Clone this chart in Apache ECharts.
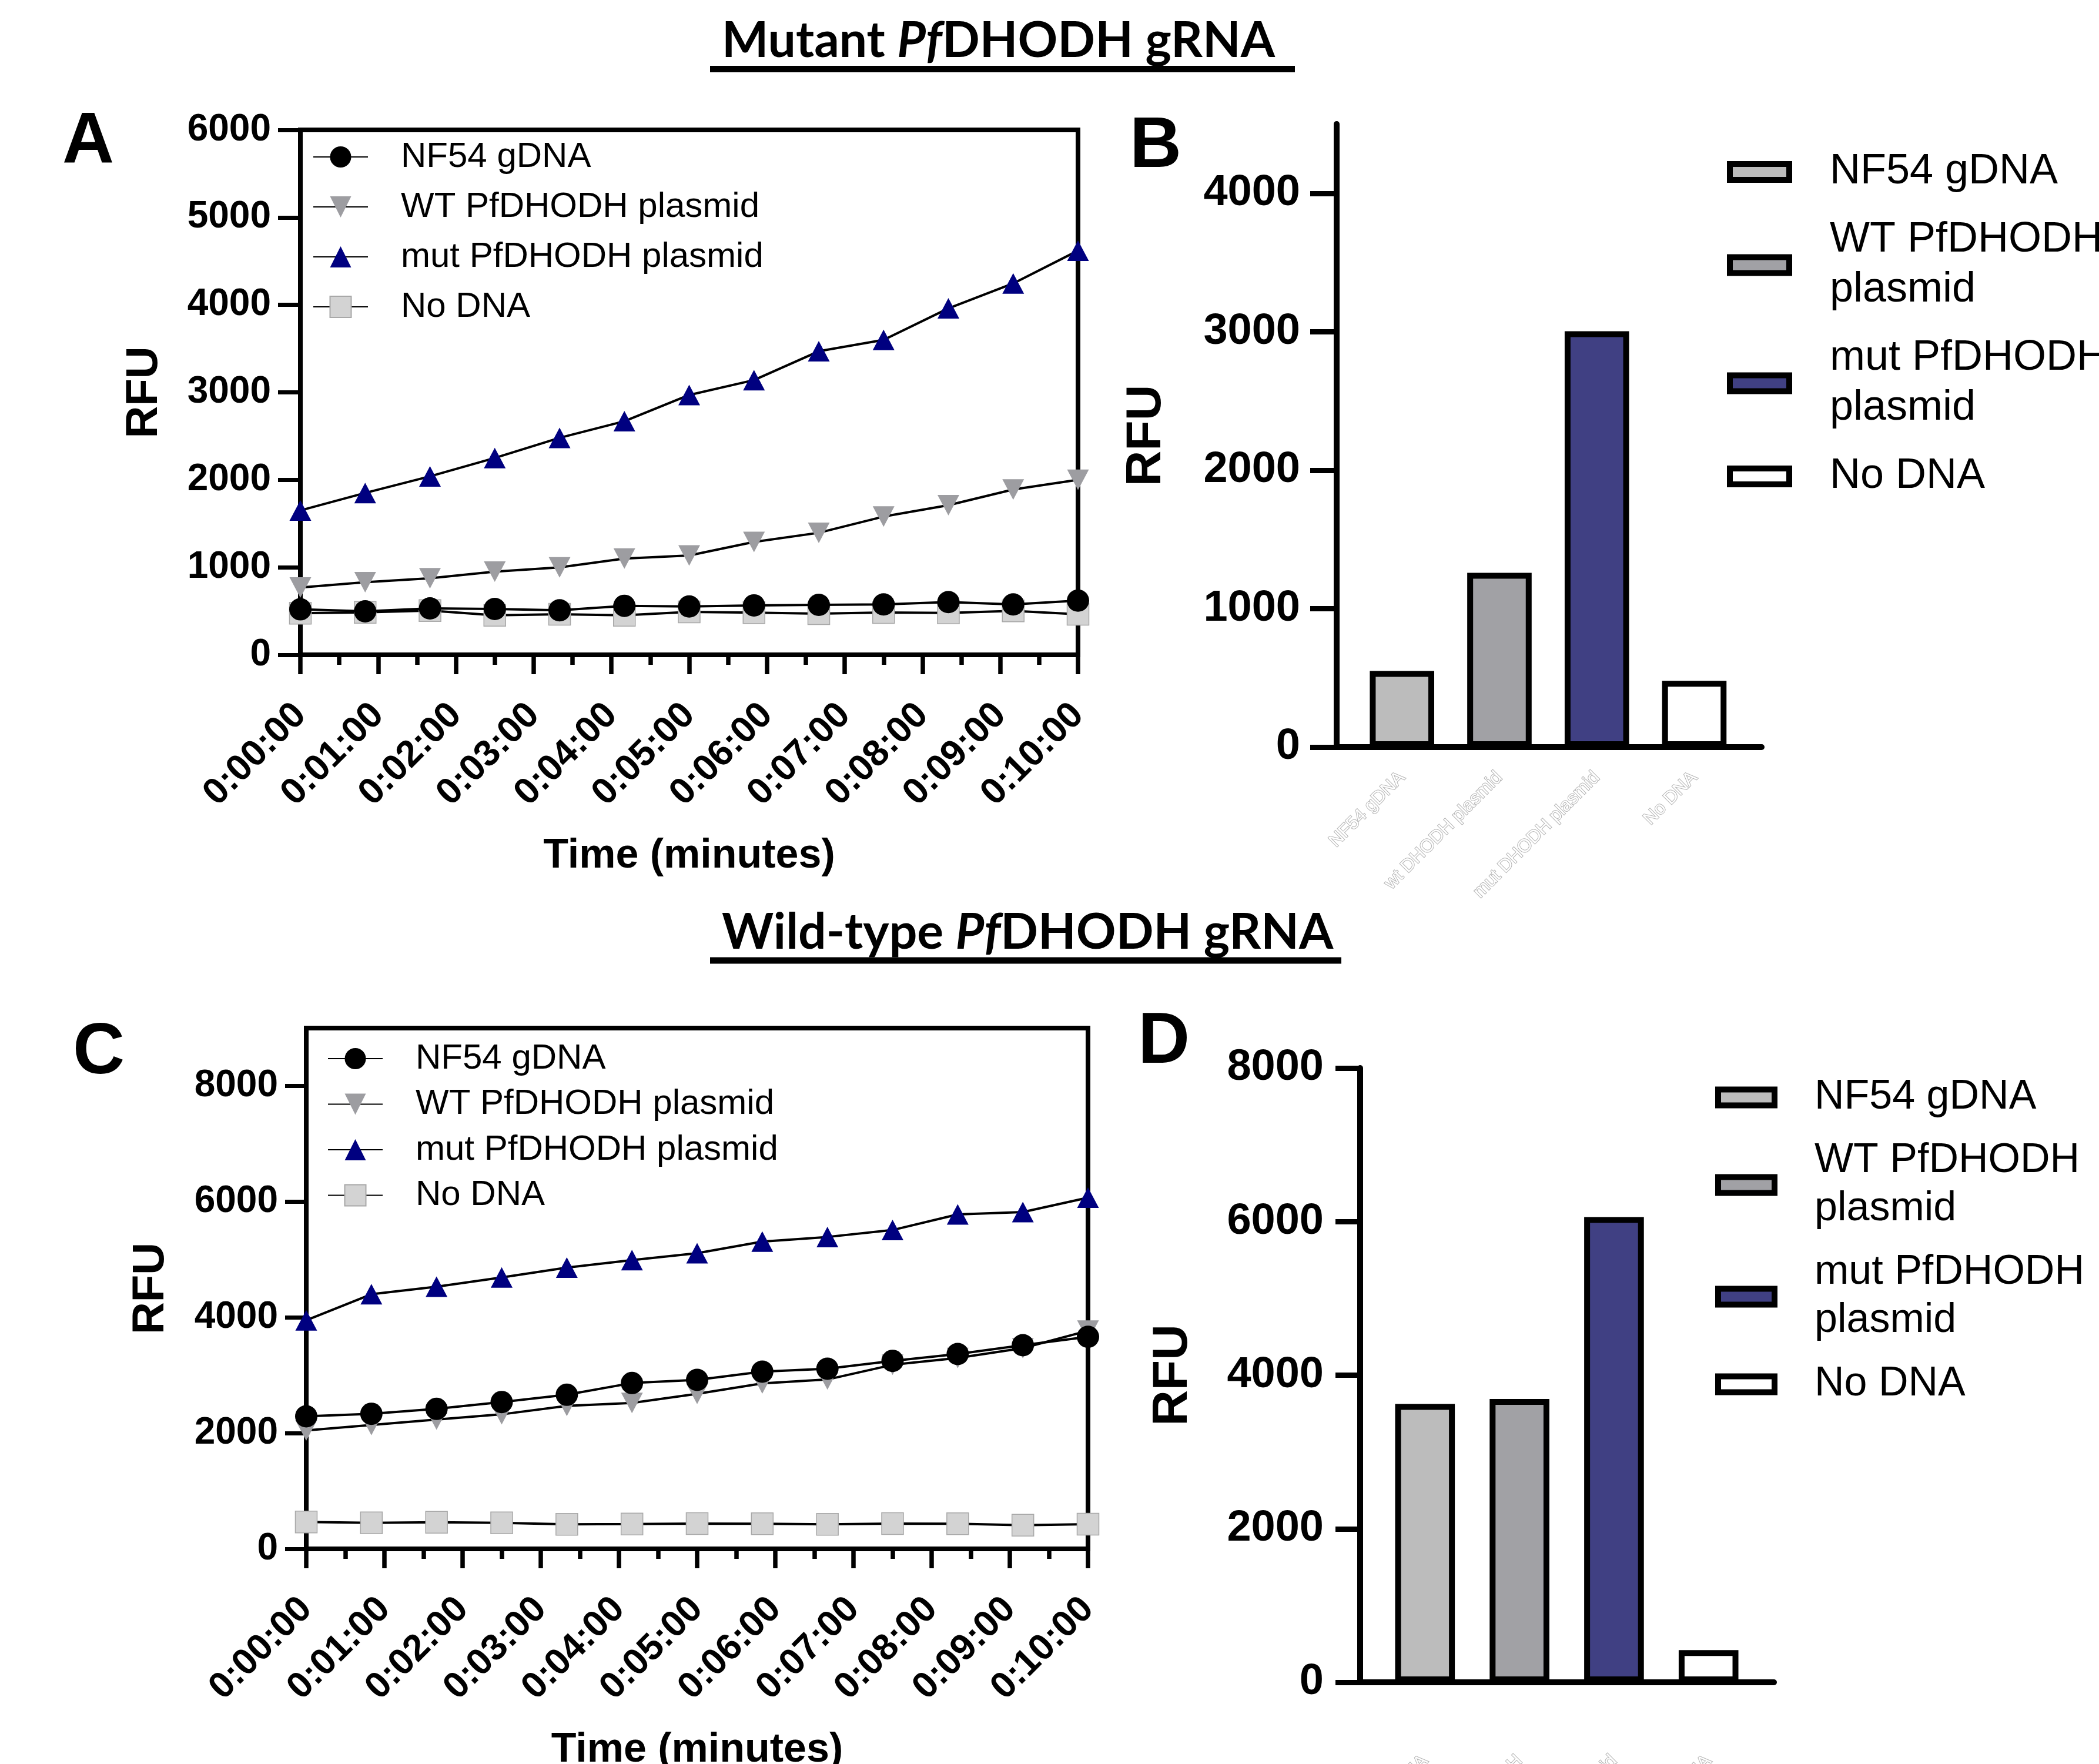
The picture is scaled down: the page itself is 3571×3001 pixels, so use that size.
<!DOCTYPE html>
<html><head><meta charset="utf-8">
<script src="https://cdn.jsdelivr.net/npm/echarts@6/dist/echarts.min.js"></script>
<style>html,body{margin:0;padding:0;background:#fff}#c{width:3571px;height:3001px}</style>
</head><body><div id="c"></div>
<script>
// ---------- DATA ----------
const timeSec = [0, 50, 100, 150, 200, 250, 300, 350, 400, 450, 500, 550, 600];
const timeTickLabels = ['0:00:00','0:01:00','0:02:00','0:03:00','0:04:00','0:05:00','0:06:00','0:07:00','0:08:00','0:09:00','0:10:00'];
const lineLegendLabels = ['NF54 gDNA', 'WT PfDHODH plasmid', 'mut PfDHODH plasmid', 'No DNA'];
const barLegendLabels = ['NF54 gDNA', 'WT PfDHODH\nplasmid', 'mut PfDHODH\nplasmid', 'No DNA'];
const barAxisLabelsB = ['NF54 gDNA', 'wt DHODH plasmid', 'mut DHODH plasmid', 'No DNA'];
const barAxisLabelsD = ['NF54 gDNA', 'wt DHODH', 'mut DHODH plasmid', 'No DNA'];

// Panel A: mutant PfDHODH gRNA, kinetics (RFU)
const mutGuideNF54  = [520, 497, 531, 524, 509, 560, 553, 565, 571, 576, 603, 576, 620];
const mutGuideWT    = [770, 830, 875, 950, 1000, 1100, 1135, 1290, 1395, 1580, 1710, 1890, 2000];
const mutGuideMut   = [1650, 1850, 2040, 2250, 2480, 2670, 2970, 3140, 3470, 3600, 3960, 4245, 4620];
const mutGuideNoDNA = [475, 486, 505, 452, 464, 452, 490, 482, 470, 484, 479, 502, 464];
// Panel B: mutant gRNA endpoint bars
const barValuesB = [550, 1259, 3004, 479];
// Panel C: wild-type PfDHODH gRNA kinetics
const wtGuideNF54  = [2291, 2335, 2419, 2538, 2663, 2866, 2920, 3063, 3114, 3249, 3367, 3520, 3665];
const wtGuideWT    = [2048, 2142, 2234, 2325, 2470, 2521, 2680, 2860, 2927, 3181, 3299, 3469, 3770];
const wtGuideMut   = [3950, 4400, 4530, 4690, 4860, 4990, 5110, 5310, 5390, 5510, 5780, 5820, 6070];
const wtGuideNoDNA = [465, 450, 460, 450, 425, 430, 437, 433, 423, 437, 433, 409, 426];
// Panel D: wild-type gRNA endpoint bars
const barValuesD = [3625, 3690, 6060, 420];

const yTicksA = [0, 1000, 2000, 3000, 4000, 5000, 6000];
const yTicksB = [0, 1000, 2000, 3000, 4000];
const yTicksC = [0, 2000, 4000, 6000, 8000];
const yTicksD = [0, 2000, 4000, 6000, 8000];
const barPositions = [0, 1, 2, 3];

// ---------- STYLE ----------
const SANS = '"Liberation Sans", Arial, sans-serif';
const markerStyles = [
  {symbol: 'circle', size: 38, rotate: 0, color: '#000000', border: '#000000', bw: 0, z: 5},
  {symbol: 'triangle', size: [37, 35], rotate: 180, color: '#9d9da1', border: '#9d9da1', bw: 0, z: 4},
  {symbol: 'triangle', size: [37, 35], rotate: 0, color: '#000080', border: '#000080', bw: 0, z: 3},
  {symbol: 'rect', size: 37, rotate: 0, color: '#d3d3d3', border: '#a8a8a8', bw: 1.5, z: 2}
];
const barColors = ['#bcbcbc', '#a1a1a5', '#404083', '#ffffff'];

function legendFmt(name) {
  const p = name.split(':');
  const i = +p[1];
  return (p[0] === 'A' || p[0] === 'C') ? lineLegendLabels[i] : barLegendLabels[i];
}

const series = [];
function addLines(panel, gi, sets) {
  sets.forEach((vals, i) => {
    const m = markerStyles[i];
    series.push({
      type: 'line', name: panel + ':' + i, xAxisIndex: gi, yAxisIndex: gi,
      data: timeSec.map((t, k) => [t, vals[k]]),
      symbol: m.symbol, symbolSize: m.size, symbolRotate: m.rotate, showAllSymbol: true,
      lineStyle: {color: '#000', width: 4},
      itemStyle: {color: m.color, borderColor: m.border, borderWidth: m.bw},
      z: m.z, clip: false, animation: false, silent: true
    });
  });
}
function addBars(panel, gi, vals, bw) {
  vals.forEach((v, i) => {
    series.push({
      type: 'bar', name: panel + ':' + i, xAxisIndex: gi, yAxisIndex: gi,
      data: [[barPositions[i], v]], barWidth: bw, barGap: '-100%',
      itemStyle: {color: barColors[i], borderColor: '#000', borderWidth: 10},
      animation: false, silent: true
    });
  });
}
addLines('A', 0, [mutGuideNF54, mutGuideWT, mutGuideMut, mutGuideNoDNA]);
addBars('B', 1, barValuesB, 109.6);
addLines('C', 2, [wtGuideNF54, wtGuideWT, wtGuideMut, wtGuideNoDNA]);
addBars('D', 3, barValuesD, 101.6);

function timeAxis(gi) {
  return {
    type: 'value', gridIndex: gi, min: 0, max: 600, interval: 60,
    axisLine: {show: true, onZero: false, lineStyle: {color: '#000', width: 8}},
    axisTick: {show: true, length: 33, lineStyle: {color: '#000', width: 7.5}},
    minorTick: {show: true, splitNumber: 2, length: 17, lineStyle: {color: '#000', width: 7.5}},
    splitLine: {show: false}, minorSplitLine: {show: false},
    axisLabel: {rotate: 45, margin: 93, color: '#000', fontFamily: SANS, fontWeight: 'bold', fontSize: 63,
      formatter: v => timeTickLabels[Math.round(v / 60)]},
    name: 'Time (minutes)', nameLocation: 'middle', nameGap: 308, nameMoveOverlap: false,
    nameTextStyle: {color: '#000', fontFamily: SANS, fontWeight: 'bold', fontSize: 70}
  };
}
function catAxis(gi, labels, minV, maxV, margin) {
  return {
    type: 'value', gridIndex: gi, min: minV, max: maxV,
    axisLine: {show: true, onZero: false, lineStyle: {color: '#000', width: 10}},
    axisTick: {show: false}, splitLine: {show: false},
    axisLabel: {customValues: barPositions, rotate: 45, margin: margin, color: '#ffffff',
      textBorderColor: '#b3b3b3', textBorderWidth: 2, fontFamily: SANS, fontSize: 31,
      formatter: v => labels[Math.round(v)]}
  };
}
function rfuAxis(gi, max, ticks, o) {
  return {
    type: 'value', gridIndex: gi, min: 0, max: max,
    axisLine: {show: true, onZero: false, lineStyle: {color: '#000', width: o.lw}},
    axisTick: {show: true, customValues: ticks, length: o.tl, lineStyle: {color: '#000', width: o.tw}},
    axisLabel: {customValues: ticks, margin: o.lm, color: '#000', fontFamily: SANS, fontWeight: 'bold', fontSize: o.fs,
      formatter: v => String(v)},
    splitLine: {show: false},
    name: 'RFU', nameLocation: 'middle', nameRotate: 90, nameGap: o.ng, nameMoveOverlap: false,
    nameTextStyle: {color: '#000', fontFamily: SANS, fontWeight: 'bold', fontSize: o.nfs}
  };
}

const lineLegendBase = {
  orient: 'vertical', padding: 0, selectedMode: false, itemWidth: 93, itemHeight: 45,
  formatter: legendFmt,
  textStyle: {fontFamily: SANS, fontSize: 60, lineHeight: 72, color: '#000', padding: [0, 0, 0, 51]}
};
const barLegendBase = {
  orient: 'vertical', padding: 0, selectedMode: false, icon: 'rect', formatter: legendFmt,
  itemStyle: {borderWidth: 10, borderColor: '#000'}
};

const titleRich = {
  n: {fontFamily: 'Lato', fontWeight: 'bold', fontSize: 84, fill: '#000'},
  i: {fontFamily: 'Lato', fontWeight: 'bold', fontStyle: 'italic', fontSize: 84, fill: '#000'}
};
function letter(t, x, y) {
  return {type: 'text', x: x, y: y, z: 10, style: {text: t, fontFamily: SANS, fontWeight: 'bold', fontSize: 122,
    fill: '#000', align: 'center', verticalAlign: 'middle'}};
}

const option = {
  animation: false,
  backgroundColor: '#ffffff',
  grid: [
    {left: 511, top: 221, width: 1323, height: 893, show: true, borderColor: '#000', borderWidth: 8, backgroundColor: 'transparent', outerBoundsMode: 'none'},
    {left: 2274, top: 211, width: 723, height: 1060, outerBoundsMode: 'none'},
    {left: 521, top: 1749, width: 1330, height: 886, show: true, borderColor: '#000', borderWidth: 8, backgroundColor: 'transparent', outerBoundsMode: 'none'},
    {left: 2314, top: 1817, width: 704, height: 1045, outerBoundsMode: 'none'}
  ],
  xAxis: [
    timeAxis(0),
    catAxis(1, barAxisLabelsB, -0.671, 3.691, 47),
    timeAxis(2),
    catAxis(3, barAxisLabelsD, -0.686, 3.692, 129)
  ],
  yAxis: [
    rfuAxis(0, 6000, yTicksA, {lw: 8, tl: 38, tw: 7, lm: 50, fs: 64, ng: 227, nfs: 76}),
    rfuAxis(1, 4500, yTicksB, {lw: 10, tl: 45, tw: 9, lm: 62, fs: 74, ng: 281, nfs: 84}),
    rfuAxis(2, 9000, yTicksC, {lw: 8, tl: 36, tw: 7, lm: 48, fs: 64, ng: 226, nfs: 76}),
    rfuAxis(3, 8000, yTicksD, {lw: 10, tl: 42, tw: 9, lm: 62, fs: 74, ng: 276, nfs: 84})
  ],
  legend: [
    Object.assign({}, lineLegendBase, {left: 532, top: 231, itemGap: 13, data: ['A:0', 'A:1', 'A:2', 'A:3']}),
    Object.assign({}, barLegendBase, {left: 2938, top: 250, itemGap: 31, itemWidth: 101, itemHeight: 27,
      data: ['B:0', 'B:1', 'B:2', 'B:3'],
      textStyle: {fontFamily: SANS, fontSize: 72, lineHeight: 85, color: '#000', padding: [0, 0, 0, 64]}}),
    Object.assign({}, lineLegendBase, {left: 557, top: 1765, itemGap: 5.5, data: ['C:0', 'C:1', 'C:2', 'C:3']}),
    Object.assign({}, barLegendBase, {left: 2918, top: 1826, itemGap: 26, itemWidth: 96, itemHeight: 27,
      data: ['D:0', 'D:1', 'D:2', 'D:3'],
      textStyle: {fontFamily: SANS, fontSize: 70, lineHeight: 82, color: '#000', padding: [0, 0, 0, 63]}})
  ],
  graphic: [
    {type: 'text', x: 1228, y: 70, style: {text: '{n|Mutant }{i|Pf}{n|DHODH gRNA}', rich: titleRich, align: 'left', verticalAlign: 'middle'}},
    {type: 'line', shape: {x1: 1208, y1: 117.5, x2: 2203, y2: 117.5}, style: {stroke: '#000', lineWidth: 11}},
    {type: 'text', x: 1228, y: 1587, style: {text: '{n|Wild-type }{i|Pf}{n|DHODH gRNA}', rich: titleRich, align: 'left', verticalAlign: 'middle'}},
    {type: 'line', shape: {x1: 1208, y1: 1634, x2: 2282, y2: 1634}, style: {stroke: '#000', lineWidth: 11}},
    letter('A', 150, 243),
    letter('B', 1966, 250),
    letter('C', 168, 1792),
    letter('D', 1980, 1774)
  ],
  series: series
};

const chart = echarts.init(document.getElementById('c'), null, {renderer: 'canvas', width: 3571, height: 3001});
chart.setOption(option);
</script>
</body></html>
